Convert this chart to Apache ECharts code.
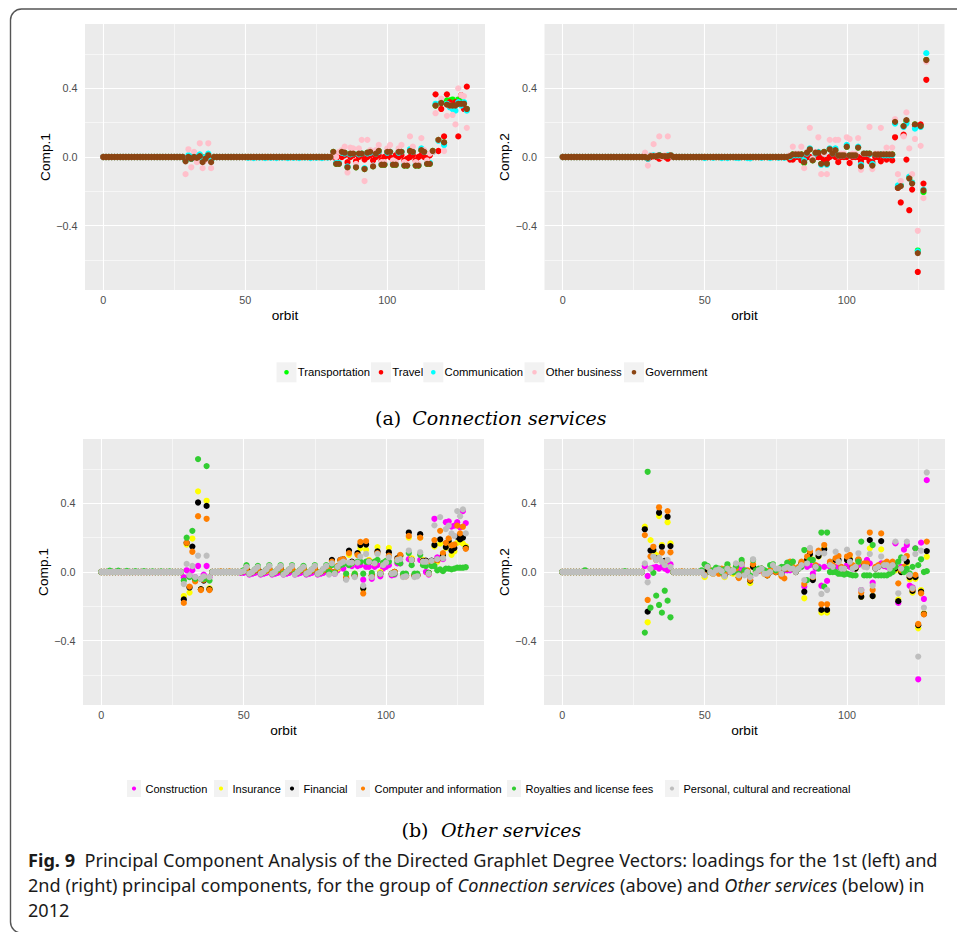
<!DOCTYPE html>
<html>
<head>
<meta charset="utf-8">
<script src="https://cdn.jsdelivr.net/npm/echarts@6/dist/echarts.min.js"></script>
<style>
  html, body { margin: 0; padding: 0; background: #ffffff; }
  #chart { width: 957px; height: 932px; }
</style>
</head>
<body>
<div id="chart"></div>
<script>
// ---------- axes ----------
const xTicks = [0, 50, 100];
const xMinorTicks = [25, 75, 125];
const yTicks = [-0.4, 0, 0.4];
const yMinorTicks = [-0.6, -0.2, 0.2, 0.6];
const xRange = [-6.4, 134.4];
const yRange = [-0.775, 0.775];

// ---------- series names / colours ----------
const connectionNames = ['Transportation', 'Travel', 'Communication', 'Other business', 'Government'];
const connectionColors = ['#00FF00', '#FF0000', '#00FFFF', '#FFC0CB', '#8B4513'];
const otherNames = ['Construction', 'Insurance', 'Financial', 'Computer and information',
  'Royalties and license fees', 'Personal, cultural and recreational'];
const otherColors = ['#FF00FF', '#FFFF00', '#000000', '#FF7F00', '#32CD32', '#BEBEBE'];

// ---------- loadings, one value per orbit 0..128 ----------
// Connection services, Comp.1
const transportationComp1 = [
  0,0,0,0,0,0,0,0,0,0,
  0,0,0,0,0,0,0,0,0,0,
  0,0,0,0,0,0,0,0,
  0,-0.02,0,-0.01,0,0,0.01,-0.02,0,0.01,-0.02,0,
  0,0,0,0,0,0,0,0,0,0,
  0,0,0,0,0,0,0,0,0,0,
  0,0,0,0,0,0,0,0,0,0,
  0,0,0,0,0,0,0,0,0,0,
  0,0.03,-0.04,-0.04,0.03,0.025,-0.06,0.02,0.02,-0.06,
  0.02,0.02,-0.07,0.025,0.03,-0.055,0.02,0.035,-0.045,-0.045,
  0.03,0.03,-0.045,-0.045,0.03,0.03,-0.05,-0.05,0.035,0.03,
  -0.05,-0.05,0.04,0.03,-0.04,-0.04,0.035,0.30,0.10,0.315,
  0.085,0.33,0.33,0.335,0.31,0.335,0.32,0.31,0.28
];
const travelComp1 = [
  0,0,0,0,0,0,0,0,0,0,
  0,0,0,0,0,0,0,0,0,0,
  0,0,0,0,0,0,0,0,
  0,-0.01,0,0,0,-0.01,0,-0.01,0,0.005,-0.01,0,
  0,0,0,0,0,0,0,0,0,0,
  0,0,0,0,0,0,0,0,0,0,
  0,0,0,0,0,0,0,0,0,0,
  0,0,0,0,0,0,0,0,0,0,
  0,0.01,-0.01,0.01,0,0.01,-0.03,0,0.01,-0.025,
  0,0.01,-0.015,0,0.01,-0.02,0,0.01,-0.02,0,
  0.01,0,-0.02,0.01,0,0.01,-0.02,-0.01,0,0.01,
  -0.02,0,0.01,0,-0.01,0.01,0.03,0.365,0.035,0.28,
  0.12,0.365,0.32,0.29,0.32,0.12,0.36,0.28,0.41
];
const communicationComp1 = [
  0,0,0,0,0,0,0,0,0,0,
  0,0,0,0,0,0,0,0,0,0,
  0,0,0,0,0,0,0,0,
  0,-0.02,0.01,-0.01,0.01,0,0.015,-0.02,0,0.02,-0.02,0,
  0,0,0,0,0,0,0,0,0,0,
  0,-0.005,0,-0.006,0,-0.004,0,-0.006,0,-0.005,
  0,-0.006,0,-0.004,0,-0.006,0,-0.005,0,-0.006,
  0,-0.004,0,-0.006,0,-0.005,0,-0.006,0,-0.004,
  0,0.025,-0.035,-0.035,0.025,0.02,-0.055,0.015,0.02,-0.055,
  0.015,0.02,-0.065,0.02,0.025,-0.05,0.02,0.03,-0.04,-0.04,
  0.025,0.03,-0.04,-0.04,0.025,0.03,-0.045,-0.045,0.045,0.03,
  -0.045,-0.045,0.05,0.03,-0.035,-0.035,0.03,0.31,0.095,0.32,
  0.07,0.31,0.29,0.28,0.27,0.32,0.30,0.32,0.27
];
const otherBusinessComp1 = [
  0,0,0,0,0,0,0,0,0,0,
  0,0,0,0,0,0,0,0,0,0,
  0,0,0,0,0,0,0,0,
  0,-0.1,0.045,-0.06,0.03,-0.03,0.08,-0.065,-0.02,0.08,-0.065,0,
  0,0,0,0,0,0,0,0,0,0,
  0,0,0,0,0,0,0,0,0,0,
  0,0,0,0,0,0,0,0,0,0,
  0,0,0,0,0,0,0,0,0,0,
  0,0.02,0,0.03,0.04,0.06,-0.09,0.055,0.05,-0.04,
  0.05,0.1,-0.14,0.1,0.04,-0.05,0.04,0.07,-0.03,-0.03,
  0.05,0.07,-0.02,-0.03,0.05,0.07,-0.03,-0.04,0.12,0.06,
  -0.03,-0.04,0.11,0.04,-0.02,0.02,0.03,0.255,0.10,0.34,
  0.035,0.24,0.30,0.245,0.19,0.40,0.36,0.355,0.17
];
const governmentComp1 = [
  0,0,0,0,0,0,0,0,0,0,
  0,0,0,0,0,0,0,0,0,0,
  0,0,0,0,0,0,0,0,
  0,-0.025,0,-0.01,0,-0.005,0.005,-0.03,-0.01,0.01,-0.03,0,
  0,0,0,0,0,0,0,0,0,0,
  0,0,0,0,0,0,0,0,0,0,
  0,0,0,0,0,0,0,0,0,0,
  0,0,0,0,0,0,0,0,0,0,
  0,0.03,-0.04,-0.04,0.03,0.025,-0.06,0.02,0.02,-0.06,
  0.02,0.02,-0.07,0.025,0.03,-0.055,0.02,0.035,-0.045,-0.045,
  0.03,0.03,-0.045,-0.045,0.03,0.03,-0.05,-0.05,0.035,0.03,
  -0.05,-0.05,0.04,0.03,-0.04,-0.04,0.035,0.30,0.10,0.315,
  0.085,0.305,0.30,0.30,0.30,0.31,0.31,0.31,0.28
];

// Connection services, Comp.2
const transportationComp2 = [
  0,0,0,0,0,0,0,0,0,0,
  0,0,0,0,0,0,0,0,0,0,
  0,0,0,0,0,0,0,0,
  0,0,-0.005,0.005,0.005,0.005,0.01,0.005,0.005,0.005,0.01,0,
  0,0,0,0,0,0,0,0,0,0,
  0,0,0,0,0,0,0,0,0,0,
  0,0,0,0,0,0,0,0,0,0,
  0,0,0,0,0,0,0,0,0,0,
  0.005,0.015,0.015,0.015,0.015,-0.035,0.025,0.045,-0.02,0.025,
  0.025,-0.04,0.03,-0.04,0.045,0.02,0.04,0.01,0.01,0.01,
  0.06,0.01,0.01,0.01,0.055,-0.05,0.02,0.02,0.02,-0.045,
  0.015,0.015,0.015,0.015,0.015,0.015,0.015,0.2,-0.175,-0.165,
  0.18,0.21,-0.12,-0.15,0.19,-0.545,0.18,-0.205,0.565
];
const travelComp2 = [
  0,0,0,0,0,0,0,0,0,0,
  0,0,0,0,0,0,0,0,0,0,
  0,0,0,0,0,0,0,0,
  0,0,-0.01,0,0.005,0,-0.01,0,0,-0.01,0.005,0,
  0,0,0,0,0,0,0,0,0,0,
  0,0,0,0,0,0,0,0,0,0,
  0,0,0,0,0,0,0,0,0,0,
  0,0,0,0,0,0,0,0,0,0,
  -0.015,-0.015,0,0,-0.02,-0.02,0,0,-0.01,0,
  0,0,-0.02,-0.015,0,0.01,0,-0.03,0,0,
  0,-0.035,0,0,0,-0.025,0,0,-0.025,-0.03,
  0,0,-0.025,0,-0.015,0,-0.02,0.115,-0.18,-0.265,
  0.13,-0.015,-0.31,-0.19,0.185,-0.67,0.19,-0.155,0.45
];
const communicationComp2 = [
  0,0,0,0,0,0,0,0,0,0,
  0,0,0,0,0,0,0,0,0,0,
  0,0,0,0,0,0,0,0,
  0,0,-0.01,0.01,0.01,0.005,0.01,0.005,0.005,0.01,0.01,0,
  0,0,0,0,0,0,0,0,0,0,
  -0.006,0,0,-0.005,0,0,-0.006,0,-0.006,0,
  0,-0.005,-0.006,0,0,-0.006,-0.008,0,0,0,
  -0.005,0,0,-0.006,0,0,-0.005,0,-0.005,0,
  0,0.01,0.01,0.01,0.01,-0.02,0.02,0.05,-0.01,0.02,
  0.03,-0.045,0.02,-0.045,0.05,0.02,0.05,0.01,0.01,0.01,
  0.07,0.01,0.01,0.01,0.06,-0.045,0.02,0.02,0.015,-0.04,
  0.015,0.015,0.015,0.01,0.01,0.01,0.01,0.195,-0.165,-0.165,
  0.175,0.195,-0.115,-0.15,0.165,-0.55,0.175,-0.19,0.605
];
const otherBusinessComp2 = [
  0,0,0,0,0,0,0,0,0,0,
  0,0,0,0,0,0,0,0,0,0,
  0,0,0,0,0,0,0,0,
  0,0.025,-0.05,0.01,0.075,0.01,0.12,0,0.01,0.12,0.01,0,
  0,0,0,0,0,0,0,0,0,0,
  0,0,0,0,0,0,0,0,0,0,
  0,0,0,0,0,0,0,0,0,0,
  0,0,0,0,0,0,0,0,0,0,
  0.01,0.06,0.02,0.02,0.06,-0.065,0.03,0.17,-0.01,0.03,
  0.115,-0.1,0.02,-0.1,0.1,0.03,0.1,0.1,0.02,0.02,
  0.115,0.105,0.02,0.02,0.11,-0.075,0.02,0.02,0.175,-0.07,
  0.02,0.02,0.17,0.02,0.055,0.02,0.055,0.22,-0.1,-0.14,
  0.12,0.26,0.05,-0.1,0.105,-0.43,0.065,-0.24,0.555
];
const governmentComp2 = [
  0,0,0,0,0,0,0,0,0,0,
  0,0,0,0,0,0,0,0,0,0,
  0,0,0,0,0,0,0,0,
  0,0,-0.005,0.005,0.005,0.005,0.01,0.005,0.005,0.005,0.01,0,
  0,0,0,0,0,0,0,0,0,0,
  0,0,0,0,0,0,0,0,0,0,
  0,0,0,0,0,0,0,0,0,0,
  0,0,0,0,0,0,0,0,0,0,
  0.005,0.015,0.015,0.015,0.015,-0.03,0.025,0.045,-0.02,0.025,
  0.025,-0.04,0.03,-0.04,0.045,0.02,0.04,0.01,0.01,0.01,
  0.06,0.01,0.01,0.01,0.055,-0.055,0.02,0.02,0.02,-0.05,
  0.015,0.015,0.015,0.015,0.015,0.015,0.015,0.205,-0.18,-0.17,
  0.18,0.215,-0.125,-0.155,0.19,-0.56,0.18,-0.195,0.565
];

// Other services, Comp.1
const constructionComp1 = [
  0,0,0,0,0,0,0,0,0,0,
  0,0,0,0,0,0,0,0,0,0,
  0,0,0,0,0,0,0,0,
  0,-0.03,0.01,-0.02,0.01,-0.03,0.035,-0.04,-0.015,0.035,-0.03,0,
  0,0,0,0,0,0,0,0,0,-0.005,
  -0.005,0,-0.015,-0.01,-0.005,0,-0.015,-0.01,-0.005,0,
  -0.015,-0.01,-0.005,0.005,-0.015,-0.01,-0.005,0.005,-0.015,-0.01,
  -0.005,0.005,-0.015,-0.01,-0.005,0.005,-0.015,-0.01,-0.005,0.005,
  0,0,-0.01,0.01,0.03,0.02,-0.03,0.04,0.035,-0.02,
  0.035,0.04,-0.045,0.03,0.03,-0.04,0.03,0.04,-0.025,0.02,
  0.03,0.04,-0.02,-0.015,0.05,0.05,-0.02,-0.02,0.075,0.07,
  -0.02,-0.02,0.07,0.06,0,-0.015,0.05,0.31,0.085,0.08,
  0.075,0.29,0.295,0.265,0.27,0.29,0.26,0.355,0.285
];
const insuranceComp1 = [
  0,0,0,0,0,0,0,0,0,0,
  0,0,0,0,0,0,0,0,0,0,
  0,0,0,0,0,0,0,0,
  0,-0.14,0.16,-0.12,0.195,-0.04,0.47,-0.1,-0.03,0.415,-0.095,0,
  0,0,0,0,0,0,0,0,0,0,
  0.005,0.015,0,0,0.01,0.015,0,0,0.005,0.015,
  0,0,0.01,0.02,0,0,0.01,0.02,0,0,
  0.01,0.02,0,0,0.01,0.02,0,0,0.01,0.02,
  0.01,0.065,0,0.02,0.065,0.07,-0.02,0.1,0.05,-0.01,
  0.1,0.138,-0.1,0.13,0.07,-0.02,0.06,0.145,0,0.05,
  0.06,0.14,-0.01,0,0.07,0.09,-0.02,-0.02,0.2,0.08,
  -0.02,-0.02,0.2,0.07,0.06,-0.005,0.06,0.148,0.06,0.165,
  0.09,0.14,0.17,0.1,0.12,0.17,0.175,0.165,0.15
];
const financialComp1 = [
  0,0,0,0,0,0,0,0,0,0,
  0,0,0,0,0,0,0,0,0,0,
  0,0,0,0,0,0,0,0,
  0,-0.16,0.17,-0.09,0.148,-0.045,0.405,-0.1,-0.05,0.385,-0.1,0,
  0,0,0,0,0,0,0,0,0,0,
  0.005,0.015,0,0,0.01,0.015,0,0,0.01,0.02,
  -0.005,0,0.01,0.02,-0.005,0,0.01,0.02,-0.005,0,
  0.01,0.02,-0.005,0,0.01,0.02,-0.005,0,0.01,0.02,
  0.01,0.07,0,0.03,0.07,0.074,-0.04,0.124,0.06,-0.02,
  0.11,0.157,-0.095,0.16,0.06,-0.02,0.055,0.12,-0.01,0.05,
  0.06,0.115,-0.01,0,0.08,0.095,-0.02,-0.02,0.23,0.07,
  -0.02,-0.02,0.22,0.065,0.066,-0.005,0.066,0.157,0.07,0.19,
  0.1,0.145,0.18,0.125,0.14,0.205,0.19,0.2,0.14
];
const computerComp1 = [
  0,0,0,0,0,0,0,0,0,0,
  0,0,0,0,0,0,0,0,0,0,
  0,0,0,0,0,0,0,0,
  0,-0.18,0.17,-0.085,0.118,-0.055,0.325,-0.105,-0.045,0.31,-0.105,0,
  0,0,0.003,0,0,0.003,0,0,0,0,
  0.005,0.02,-0.005,0,0.01,0.02,-0.005,0,0.01,0.02,
  -0.005,0,0.01,0.02,-0.005,0,0.01,0.02,-0.005,0,
  0.01,0.02,-0.005,0,0.01,0.02,-0.005,0,0.01,0.025,
  0.015,0.06,0,0.035,0.07,0.075,-0.035,0.11,0.055,-0.02,
  0.1,0.175,-0.125,0.18,0.065,-0.02,0.05,0.11,-0.01,0.05,
  0.06,0.095,-0.01,0,0.075,0.1,-0.025,-0.025,0.21,0.07,
  -0.02,-0.02,0.2,0.06,0.06,-0.01,0.06,0.186,0.07,0.24,
  0.11,0.17,0.196,0.155,0.16,0.27,0.225,0.264,0.135
];
const royaltiesComp1 = [
  0,0,0,0.008,0,0,0.008,0,0,0.006,
  0,0,0.005,0,0,0.005,0,0,0.004,0,
  0,0.004,0,0,0.003,0,0,0,
  0,-0.05,0.2,-0.03,0.24,-0.04,0.658,-0.04,-0.04,0.617,-0.05,0,
  0,0,0,0,0,0,0,0,0,0,
  0.01,0.04,-0.01,0,0.015,0.035,-0.01,0,0.015,0.04,
  -0.01,0,0.015,0.04,-0.01,0,0.015,0.04,-0.01,0,
  0.015,0.035,-0.01,0,0.015,0.04,-0.01,0,0.015,0.04,
  0,0.04,-0.005,0.03,0.04,0.045,-0.01,0.04,0.05,-0.01,
  0.06,0.06,-0.01,0.06,0.06,-0.005,0.06,0.07,-0.01,0.055,
  0.065,0.06,-0.01,-0.01,0.06,0.05,-0.01,-0.01,0.11,0.04,
  -0.01,-0.01,0.1,0.04,0.035,-0.005,0.035,0.035,0.01,0.015,
  0.005,0.02,0.02,0.015,0.02,0.025,0.025,0.025,0.028
];
const personalComp1 = [
  0,0,0,0,0,0,0,0,0,0,
  0,0,0,0,0,0,0,0,0,0,
  0,0,0,0,0,0,0,0,
  0,-0.07,0.047,-0.02,0.035,-0.03,0.095,-0.04,-0.025,0.095,-0.03,0,
  0,0,0,0,0,0,0,0,0,0,
  0.005,0.03,-0.01,0,0.015,0.03,-0.01,0,0.015,0.035,
  -0.01,0,0.02,0.035,-0.015,0,0.015,0.035,-0.015,0,
  0.015,0.03,-0.01,0,0.015,0.035,-0.01,0,0.02,0.035,
  -0.015,0.05,-0.01,0.03,0.05,0.06,-0.045,0.055,0.055,-0.03,
  0.055,0.09,-0.08,0.105,0.06,-0.03,0.05,0.105,-0.01,0.04,
  0.055,0.085,-0.01,-0.005,0.07,0.075,-0.03,-0.025,0.125,0.07,
  -0.03,-0.025,0.115,0.06,0.06,-0.01,0.065,0.272,0.075,0.32,
  0.08,0.25,0.27,0.225,0.21,0.355,0.325,0.365,0.225
];

// Other services, Comp.2
const constructionComp2 = [
  0,0,0,0,0,0,0,0,0,0,
  0,0,0,0,0,0,0,0,0,0,
  0,0,0,0,0,0,0,0,
  0,0.035,-0.023,0.02,0.025,0.03,0.02,0.03,0.02,0.01,0.045,0,
  0,0,0,0,0,0,0,0,0,0,
  0,0.01,0,0,0.005,0.005,0.01,0,0.01,0,
  0,0.02,0,0.03,0,0,-0.03,0.03,0,0.005,
  0.01,0,0,0,0.01,0,0.01,0,0.01,0.01,
  0.01,0.02,0.01,0.027,0.03,-0.085,0.03,0.04,-0.01,0.02,
  0.031,-0.08,0.03,-0.052,0.03,0.02,0.03,0.03,0.03,0.02,
  0.04,0.03,0.02,0.02,0.04,-0.105,0.04,0.07,0.05,-0.062,
  0.027,0.03,0.05,0.035,0.03,0.02,0.03,0.167,-0.18,0.03,
  0.13,0.157,-0.08,-0.09,0.138,-0.625,0.171,-0.157,0.535
];
const insuranceComp2 = [
  0,0,0,0,0,0,0,0,0,0,
  0,0,0,0,0,0,0,0,0,0,
  0,0,0,0,0,0,0,0,
  0,0.264,-0.293,0.186,0.12,0.1,0.326,0.157,0.06,0.29,0.167,0,
  0,0,0,0,0,0,0,0,0,0,
  -0.03,0,0,-0.01,0.01,0.01,0,-0.03,0.03,0,
  -0.01,0.03,-0.03,0.05,-0.01,0,-0.065,0.03,0,0.01,
  0.02,-0.01,-0.02,0,0.03,0,0.01,-0.02,0.02,0.02,
  0.03,0.02,0,0.02,0.05,-0.153,0.07,0.085,-0.04,0.03,
  0.09,-0.237,0.14,-0.237,0.05,0.03,0.07,0.06,0.02,0.02,
  0.07,0.08,0.03,0.02,0.06,-0.144,0.04,0.04,0.138,-0.14,
  0.02,0.03,0.132,0.04,0.05,0.03,0.05,0.01,-0.16,0,
  0.02,0.05,-0.043,-0.12,-0.04,-0.328,-0.105,-0.24,0.089
];
const financialComp2 = [
  0,0,0,0,0,0,0,0,0,0,
  0,0,0,0,0,0,0,0,0,0,
  0,0,0,0,0,0,0,0,
  0,0.249,-0.231,0.125,0.128,0.08,0.345,0.147,0.065,0.322,0.151,0,
  0,0,0,0,0,0,0,0,0,0,
  -0.01,0.01,0,0,0.01,0.01,0,-0.02,0.02,0,
  0,0.03,-0.03,0.05,0,0,-0.05,0.03,0,0.01,
  0.02,0,-0.02,0,0.03,0,0.01,-0.01,0.02,0.02,
  0.04,0.02,0,0.02,0.05,-0.115,0.07,0.105,-0.047,0.03,
  0.093,-0.221,0.132,-0.221,0.05,0.03,0.07,0.07,0.02,0.02,
  0.07,0.07,0.03,0.02,0.07,-0.144,0.04,0.04,0.186,-0.14,
  0.02,0.03,0.18,0.04,0.05,0.03,0.05,0.02,-0.17,0,
  0.02,0.06,-0.03,-0.11,-0.03,-0.31,-0.115,-0.245,0.122
];
const computerComp2 = [
  0,0,0,0,0,0,0,0,0,0,
  0,0,0,0,0,0,0,0,0,0,
  0,0,0,0,0,0,0,0,
  0,0.215,-0.163,0.09,0.147,0.07,0.377,0.113,0.055,0.355,0.115,0,
  0,0,0.003,0,0,0,0.003,0,0,0,
  -0.015,0.03,0.01,-0.01,0.015,-0.01,0.02,-0.01,0.03,0.01,
  0,0.02,-0.035,0.05,0,0.01,-0.045,0.045,0,0.01,
  0.01,-0.01,-0.02,0.01,0.02,0,0.01,-0.025,-0.037,0.02,
  0.06,0.03,0.01,0.03,0.06,-0.07,0.09,0.12,-0.03,0.04,
  0.124,-0.188,0.157,-0.188,0.06,0.04,0.08,0.093,0.03,0.02,
  0.09,0.1,0.04,0.03,0.074,-0.12,0.05,0.05,0.23,-0.105,
  0.03,0.04,0.225,0.05,0.06,0.04,0.06,0.03,-0.066,0.01,
  0.03,0.093,-0.02,-0.1,-0.017,-0.303,-0.124,-0.247,0.177
];
const royaltiesComp2 = [
  0,0,0,0,0,0,0,0,0.01,0,
  0,0,0,0,0,0,0,0,0,0,
  0,0,0.005,0,0,0,0,0,
  0,-0.353,0.584,-0.208,-0.005,-0.138,-0.192,-0.237,-0.109,-0.167,-0.264,0,
  0,0,0,0,0,0,0,0,0,0.01,
  0.045,0.035,0,0.01,0.025,0.02,0,0.015,0.045,0.01,
  0,0.035,-0.01,0.07,0.01,0,-0.02,0.07,0.01,0.02,
  0.02,0.01,0,0.04,0.045,0.01,0.02,0.03,0.03,0.055,
  0.03,0.06,0.01,0.02,0.03,0.128,-0.047,0.07,0.07,0.03,
  0.02,0.23,-0.085,0.23,0,0,0,-0.01,-0.01,-0.015,
  -0.01,-0.015,-0.02,-0.02,0.06,0.177,-0.02,-0.02,-0.02,0.157,
  -0.02,-0.02,-0.02,-0.02,-0.02,-0.01,0,0.03,0.06,0.085,
  0,0.02,-0.008,0.03,0.138,0.04,0.074,0,0.005
];
const personalComp2 = [
  0,0,0,0,0,0,0,0,0,0,
  0,0,0,0,0,0,0,0,0,0,
  0,0,0,0,0,0,0,0,
  0,0.05,-0.06,0.02,0.09,0.07,0.083,0.06,0.04,0.07,0.03,0,
  0,0,0,0,0,0,0,0,0,0,
  -0.02,0.03,0,-0.01,0.01,0.015,0.005,-0.025,0.02,0,
  0.01,0.05,-0.02,0.045,-0.02,0,-0.03,0.074,-0.01,0.01,
  0.02,-0.01,-0.01,0,0.04,0.02,0.02,-0.01,0.02,0.03,
  0.02,0.02,0,0.02,0.04,-0.047,0.05,0.14,-0.027,0.03,
  0.11,-0.128,0.109,-0.105,0.04,0.03,0.118,0.06,0.02,0.02,
  0.13,0.06,0.02,0.03,0.109,-0.105,0.03,0.027,0.105,-0.08,
  0.02,0.03,0.09,0.04,0.04,0.02,0.04,0.177,-0.124,0.02,
  0.08,0.177,-0.017,-0.095,0.105,-0.493,0.124,-0.208,0.58
];

// ---------- panel layout ----------
const FONT = '"Liberation Sans", Arial, Helvetica, sans-serif';
const panels = [
  { left: 85,  top: 24,  width: 400, yName: 'Comp.1', names: connectionNames, colors: connectionColors,
    values: [transportationComp1, travelComp1, communicationComp1, otherBusinessComp1, governmentComp1] },
  { left: 544.5, top: 24, width: 400, yName: 'Comp.2', names: connectionNames, colors: connectionColors,
    values: [transportationComp2, travelComp2, communicationComp2, otherBusinessComp2, governmentComp2] },
  { left: 83,  top: 439, width: 401, yName: 'Comp.1', names: otherNames, colors: otherColors,
    values: [constructionComp1, insuranceComp1, financialComp1, computerComp1, royaltiesComp1, personalComp1] },
  { left: 544, top: 439, width: 401, yName: 'Comp.2', names: otherNames, colors: otherColors,
    values: [constructionComp2, insuranceComp2, financialComp2, computerComp2, royaltiesComp2, personalComp2] }
];
const PANEL_H = 266;

panels.forEach(p => p.values.forEach((arr, k) => {
  if (arr.length !== 129) throw new Error(p.yName + ' / ' + p.names[k] + ' has ' + arr.length + ' values');
}));

const yLabel = v => (v < 0 ? '\u2212' : '') + Math.abs(v).toFixed(1);
const majorLine = { color: '#FFFFFF', width: 1.1, type: 'solid', opacity: 1 };
const minorLine = { color: '#FFFFFF', width: 0.55, type: 'solid', opacity: 1 };

const grids = [], xAxes = [], yAxes = [], series = [];
panels.forEach((p, i) => {
  grids.push({ left: p.left, top: p.top, width: p.width, height: PANEL_H, show: true,
    backgroundColor: '#EBEBEB', borderWidth: 0, containLabel: false, outerBoundsMode: 'none' });
  xAxes.push({
    gridIndex: i, type: 'value', min: xRange[0], max: xRange[1],
    axisLine: { show: false }, splitLine: { show: false },
    axisTick: { show: true, customValues: xTicks, length: 3, lineStyle: { color: '#333333', width: 1 } },
    axisLabel: { customValues: xTicks, color: '#4D4D4D', fontSize: 10.8, fontFamily: FONT, margin: 4.5 },
    name: 'orbit', nameLocation: 'middle', nameGap: 18,
    nameTextStyle: { color: '#000000', fontSize: 13.7, fontFamily: FONT }
  });
  yAxes.push({
    gridIndex: i, type: 'value', min: yRange[0], max: yRange[1],
    axisLine: { show: false }, splitLine: { show: false },
    axisTick: { show: true, customValues: yTicks, length: 3, lineStyle: { color: '#333333', width: 1 } },
    axisLabel: { customValues: yTicks, formatter: yLabel, color: '#4D4D4D', fontSize: 10.8, fontFamily: FONT, margin: 7.5 },
    name: p.yName, nameLocation: 'middle', nameRotate: 90, nameGap: 33,
    nameTextStyle: { color: '#000000', fontSize: 13.7, fontFamily: FONT }
  });
  // panel grid lines
  series.push({
    type: 'line', xAxisIndex: i, yAxisIndex: i, data: [], silent: true,
    markLine: {
      silent: true, symbol: 'none', z: 1, animation: false, label: { show: false },
      emphasis: { disabled: true },
      data: [
        ...xMinorTicks.map(v => ({ xAxis: v, lineStyle: minorLine })),
        ...yMinorTicks.map(v => ({ yAxis: v, lineStyle: minorLine })),
        ...xTicks.map(v => ({ xAxis: v, lineStyle: majorLine })),
        ...yTicks.map(v => ({ yAxis: v, lineStyle: majorLine }))
      ]
    }
  });
  p.values.forEach((vals, k) => {
    series.push({
      type: 'scatter', name: p.names[k], xAxisIndex: i, yAxisIndex: i,
      symbol: 'circle', symbolSize: 6.2, silent: true, z: 3,
      itemStyle: { color: p.colors[k], opacity: 1, borderWidth: 0 },
      data: vals.map((v, orbit) => [orbit, v])
    });
  });
});

// ---------- legends, captions, frame ----------
const graphics = [];
graphics.push({ type: 'rect', silent: true,
  shape: { x: 10.5, y: 9, width: 1000, height: 924, r: 11 },
  style: { fill: 'none', stroke: '#555555', lineWidth: 1.4 } });

function addLegend(names, colors, dotX, cy, boxW, boxH, dotR, fontSize, textGap) {
  names.forEach((name, k) => {
    graphics.push({ type: 'rect', silent: true,
      shape: { x: dotX[k] - boxW / 2, y: cy - boxH / 2, width: boxW, height: boxH },
      style: { fill: '#F2F2F2' } });
    graphics.push({ type: 'circle', silent: true,
      shape: { cx: dotX[k], cy: cy, r: dotR }, style: { fill: colors[k] } });
    graphics.push({ type: 'text', silent: true, x: dotX[k] + textGap, y: cy,
      style: { text: name, fontSize: fontSize, fontFamily: FONT, fill: '#000000',
               align: 'left', verticalAlign: 'middle' } });
  });
}
const topLegendDotX = [286.5, 381, 433.3, 534.5, 634];
const bottomLegendDotX = [134, 221, 292, 363, 514, 672];
addLegend(connectionNames, connectionColors, topLegendDotX, 372.3, 20, 20, 2.3, 11.3, 11.2);
addLegend(otherNames, otherColors, bottomLegendDotX, 788.5, 14, 17, 2.1, 11, 11.5);

const SERIF = '"DejaVu Serif", "Liberation Serif", serif';
function addSubCaption(label, title, xLabel, xTitle, cy) {
  graphics.push({ type: 'text', silent: true, x: xLabel, y: cy,
    style: { text: label, fontSize: 19, fontFamily: SERIF, fill: '#000000', verticalAlign: 'middle' } });
  graphics.push({ type: 'text', silent: true, x: xTitle, y: cy,
    style: { text: title, fontSize: 19, fontFamily: SERIF, fontStyle: 'italic', fill: '#000000', verticalAlign: 'middle' } });
}
addSubCaption('(a)', 'Connection services', 375, 412.3, 418);
addSubCaption('(b)', 'Other services', 401.5, 441, 829.5);

// figure caption, three lines
const CAP = '"Noto Sans", "Open Sans", sans-serif';
const CAP_SIZE = 17.5;
const capStyles = {
  b: { fontWeight: 'bold', fontStyle: 'normal' },
  r: { fontWeight: 'normal', fontStyle: 'normal' },
  i: { fontWeight: 'normal', fontStyle: 'italic' }
};
const captionLines = [
  [['b', 'Fig. 9'], ['r', '  Principal Component Analysis of the Directed Graphlet Degree Vectors: loadings for the 1st (left) and']],
  [['r', '2nd (right) principal components, for the group of '], ['i', 'Connection services'], ['r', ' (above) and '],
   ['i', 'Other services'], ['r', ' (below) in']],
  [['r', '2012']]
];
const measureCtx = document.createElement('canvas').getContext('2d');
function lineWidth(segs) {
  return segs.reduce((w, [s, t]) => {
    const st = capStyles[s];
    measureCtx.font = st.fontStyle + ' ' + st.fontWeight + ' ' + CAP_SIZE + 'px ' + CAP;
    return w + measureCtx.measureText(t).width;
  }, 0);
}
const capScale = 910 / lineWidth(captionLines[0]);
const richDef = {};
Object.keys(capStyles).forEach(k => {
  richDef[k] = { fontSize: CAP_SIZE, fontFamily: CAP, fontWeight: capStyles[k].fontWeight,
                 fontStyle: capStyles[k].fontStyle, fill: '#1A1A1A' };
});
captionLines.forEach((segs, li) => {
  graphics.push({ type: 'text', silent: true, x: 28, y: 860 + li * 25, scaleX: capScale,
    style: { text: segs.map(([s, t]) => '{' + s + '|' + t + '}').join(''), rich: richDef,
             fontSize: CAP_SIZE, fontFamily: CAP, fill: '#1A1A1A', verticalAlign: 'middle', align: 'left' } });
});

const chart = echarts.init(document.getElementById('chart'), null, { renderer: 'svg', width: 957, height: 932 });
chart.setOption({
  animation: false,
  backgroundColor: '#FFFFFF',
  grid: grids,
  xAxis: xAxes,
  yAxis: yAxes,
  series: series,
  graphic: { elements: graphics }
});
</script>
</body>
</html>
